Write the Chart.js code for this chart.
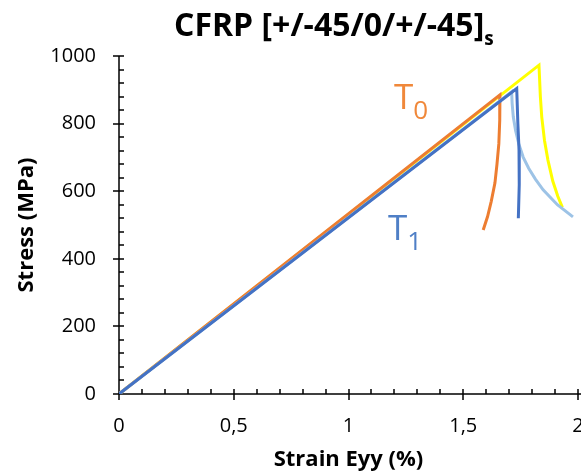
<!DOCTYPE html>
<html>
<head>
<meta charset="utf-8">
<script src="https://cdn.jsdelivr.net/npm/chart.js@4/dist/chart.umd.min.js"></script>
<style>
  body { margin: 0; background: #fff; }
  #wrap { position: relative; width: 581px; height: 475px; overflow: hidden; font-family: "Open Sans", sans-serif; }
  #chart { position: absolute; left: 0; top: 0; }
  .lbl { position: absolute; line-height: 1; white-space: nowrap; }
  .lbl .sub { position: relative; }
</style>
</head>
<body>
<div id="wrap">
  <canvas id="chart" width="581" height="475"></canvas>
  <div class="lbl" id="title" style="left:174px; top:8px; font-size:32px; font-weight:bold; color:#000;">CFRP [+/-45/0/+/-45]<span class="sub" style="font-size:19px; top:9px;">s</span></div>
  <div class="lbl" style="left:394px; top:78px; font-size:35px; color:#F0883A;">T<span class="sub" style="font-size:26px; top:10px;">0</span></div>
  <div class="lbl" style="left:388px; top:209px; font-size:35px; color:#4F7FC6;">T<span class="sub" style="font-size:26px; top:10px;">1</span></div>
</div>
<script>
'use strict';

// strain (%) / stress (MPa)
var yellowStrain = [0, 1.83, 1.836, 1.842, 1.854, 1.869, 1.89, 1.912, 1.932];
var yellowStress = [0, 973, 880, 820, 750, 692, 630, 585, 552];

var orangeStrain = [0, 1.66, 1.659, 1.655, 1.647, 1.638, 1.622, 1.606, 1.587];
var orangeStress = [0, 885, 810, 740, 680, 624, 570, 525, 485];

var lightBlueStrain = [0, 1.711, 1.713, 1.718, 1.728, 1.742, 1.761, 1.785, 1.815, 1.848, 1.91, 1.978];
var lightBlueStress = [0, 894, 860, 820, 780, 740, 701, 668, 635, 604, 560, 524];

var blueStrain = [0, 1.733, 1.738, 1.743, 1.744, 1.740];
var blueStress = [0, 904, 800, 722, 620, 520];

var xTicks = [0, 0.5, 1, 1.5, 2];
var yTicks = [0, 200, 400, 600, 800, 1000];

function toPoints(xs, ys) {
  return xs.map(function (x, i) {
    return {x: x, y: ys[i]};
  });
}

function makeSet(xs, ys, color) {
  return {
    data: toPoints(xs, ys),
    borderColor: color,
    backgroundColor: color,
    borderWidth: 3,
    pointRadius: 0,
    showLine: true,
    fill: false,
    tension: 0
  };
}

// axis lines + major (crossing) and minor (inside) tick marks
var axisPlugin = {
  id: 'axisTicks',
  beforeDatasetsDraw: function (chart) {
    var ctx = chart.ctx;
    var area = chart.chartArea;
    var xs = chart.scales.x;
    var ys = chart.scales.y;
    ctx.save();
    ctx.strokeStyle = '#000';
    ctx.lineWidth = 1.5;
    ctx.beginPath();
    ctx.moveTo(area.left, area.top);
    ctx.lineTo(area.left, area.bottom);
    ctx.lineTo(area.right + 3, area.bottom);

    for (var i = 0; i <= 20; i++) {
      var px = Math.round(xs.getPixelForValue(i * 0.1));
      if (i % 5 == 0) {
        ctx.moveTo(px, area.bottom + 6);
      } else {
        ctx.moveTo(px, area.bottom);
      }
      ctx.lineTo(px, area.bottom - 5);
    }
    for (var j = 0; j <= 25; j++) {
      var py = Math.round(ys.getPixelForValue(j * 40));
      if (j % 5 == 0) {
        ctx.moveTo(area.left - 6, py);
      } else {
        ctx.moveTo(area.left, py);
      }
      ctx.lineTo(area.left + 5, py);
    }
    ctx.stroke();
    ctx.restore();
  }
};

var ctx = document.getElementById('chart').getContext('2d');

new Chart(ctx, {
  type: 'scatter',
  data: {
    datasets: [
      makeSet(blueStrain, blueStress, '#4472C4'),
      makeSet(lightBlueStrain, lightBlueStress, '#9DC3E6'),
      makeSet(orangeStrain, orangeStress, '#ED7D31'),
      makeSet(yellowStrain, yellowStress, '#FFFF00')
    ]
  },
  options: {
    responsive: false,
    animation: false,
    layout: {
      padding: {top: 56, right: 3, left: 0, bottom: 0}
    },
    plugins: {
      legend: {display: false},
      tooltip: {enabled: false},
      title: {display: false}
    },
    scales: {
      x: {
        type: 'linear',
        min: 0,
        max: 2,
        afterBuildTicks: function (scale) {
          scale.ticks = xTicks.map(function (v) { return {value: v}; });
        },
        afterFit: function (scale) {
          scale.height = 81;
          scale.paddingLeft = 0;
          scale.paddingRight = 0;
        },
        grid: {display: false, drawTicks: false},
        border: {display: false},
        ticks: {
          color: '#000',
          padding: 20,
          font: {family: 'Open Sans', size: 20},
          callback: function (v) {
            return String(v).replace('.', ',');
          }
        },
        title: {
          display: true,
          text: 'Strain Eyy (%)',
          color: '#000',
          font: {family: 'Open Sans', size: 22, weight: 'bold'},
          padding: {top: 0, bottom: 2}
        }
      },
      y: {
        type: 'linear',
        min: 0,
        max: 1000,
        afterBuildTicks: function (scale) {
          scale.ticks = yTicks.map(function (v) { return {value: v}; });
        },
        afterFit: function (scale) {
          scale.width = 119;
          scale.paddingTop = 0;
          scale.paddingBottom = 0;
        },
        grid: {display: false, drawTicks: false},
        border: {display: false},
        ticks: {
          color: '#000',
          padding: 23,
          font: {family: 'Open Sans', size: 20},
          callback: function (v) {
            return String(v);
          }
        },
        title: {
          display: true,
          text: 'Stress (MPa)',
          color: '#000',
          font: {family: 'Open Sans', size: 22, weight: 'bold'},
          padding: {top: 14, bottom: 0}
        }
      }
    }
  },
  plugins: [axisPlugin]
});
</script>
</body>
</html>
